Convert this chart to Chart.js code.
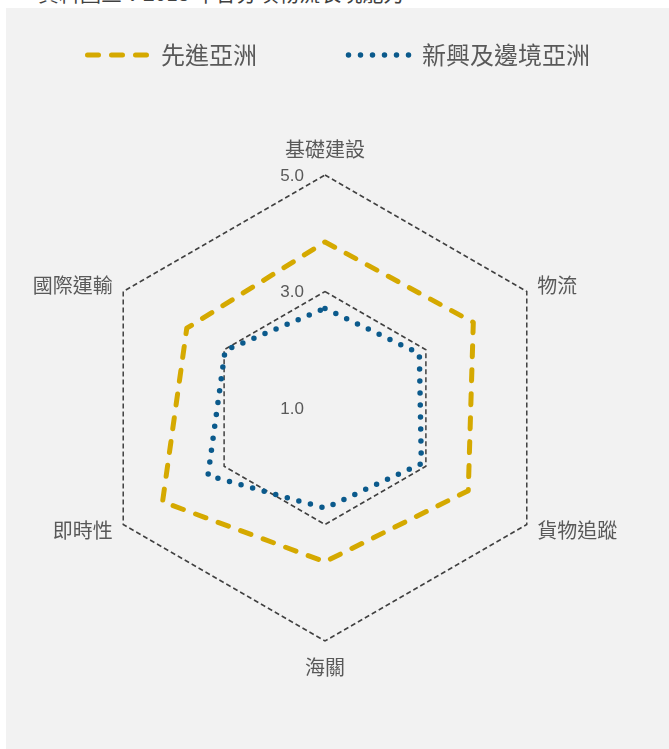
<!DOCTYPE html>
<html lang="zh-Hant">
<head>
<meta charset="utf-8">
<title>物流表現</title>
<script src="https://cdn.jsdelivr.net/npm/chart.js@4/dist/chart.umd.min.js"></script>
<style>
  html, body { margin: 0; padding: 0; background: #ffffff; }
  body { width: 669px; height: 749px; position: relative; overflow: hidden; }
  .caption {
    position: absolute; left: 38px; top: -18px;
    font: 21px/21px "Noto Sans CJK TC", sans-serif; color: #404040; white-space: nowrap;
  }
  .panel { position: absolute; left: 6px; top: 8px; width: 663px; height: 741px; background: #f2f2f2; }
  canvas { display: block; }
</style>
</head>
<body>
<div class="caption">資料圖三：2018 年各分項物流表現能力</div>
<div class="panel"><canvas id="radarChart" width="663" height="741"></canvas></div>
<script>
// Logistics performance by component, scored 1 to 5
var categories = ["基礎建設", "物流", "貨物追蹤", "海關", "即時性", "國際運輸"];
var advancedAsia = [3.85, 3.94, 3.84, 3.64, 4.22, 3.74];
var emergingAsia = [2.71, 2.87, 2.91, 2.72, 3.32, 2.98];
var seriesNames = ["先進亞洲", "新興及邊境亞洲"];
var tickValues = [1, 3, 5];
var tickLabels = ["1.0", "3.0", "5.0"];

var textGrey = "#595959";
var cjk = '"Noto Sans CJK TC", "Noto Sans CJK SC", sans-serif';

// legend across the top: a stroked sample of each dataset's line, then its name
var topLegend = {
  id: "topLegend",
  afterDraw: function (chart) {
    var ctx = chart.ctx;
    var sets = chart.data.datasets;
    var lineLen = 64, gap = 12, itemGap = 89, y = 47;
    ctx.save();
    ctx.font = "24px " + cjk;
    var total = 0;
    sets.forEach(function (ds, i) {
      total += lineLen + gap + ctx.measureText(ds.label).width + (i ? itemGap : 0);
    });
    var x = (chart.width - total) / 2;
    sets.forEach(function (ds) {
      ctx.beginPath();
      ctx.setLineDash(ds.borderDash);
      ctx.lineCap = "round";
      ctx.lineWidth = ds.borderWidth;
      ctx.strokeStyle = ds.borderColor;
      ctx.moveTo(x + 2.5, y);
      ctx.lineTo(x + lineLen, y);
      ctx.stroke();
      ctx.setLineDash([]);
      ctx.fillStyle = textGrey;
      ctx.textAlign = "left";
      ctx.textBaseline = "middle";
      ctx.fillText(ds.label, x + lineLen + gap, y);
      x += lineLen + gap + ctx.measureText(ds.label).width + itemGap;
    });
    ctx.restore();
  },
};

// category names sit just outside the outer ring, value labels to the left of the top spoke
var radarText = {
  id: "radarText",
  afterDraw: function (chart) {
    var r = chart.scales.r;
    var ctx = chart.ctx;
    ctx.save();
    ctx.fillStyle = textGrey;
    ctx.textBaseline = "middle";
    ctx.font = "20px " + cjk;
    categories.forEach(function (name, i) {
      var deg = Math.round((r.getIndexAngle(i) * 180) / Math.PI) % 360;
      var vertical = deg === 0 || deg === 180;
      var p = r.getPointPosition(i, r.drawingArea + (vertical ? 26 : 12));
      ctx.textAlign = vertical ? "center" : deg < 180 ? "left" : "right";
      ctx.fillText(name, p.x, p.y);
    });
    ctx.font = '17px "Liberation Sans", Arial, sans-serif';
    ctx.textAlign = "right";
    tickValues.forEach(function (v, i) {
      var d = r.getDistanceFromCenterForValue(v);
      ctx.fillText(tickLabels[i], r.xCenter - 21, r.yCenter - d + 1);
    });
    ctx.restore();
  },
};

new Chart(document.getElementById("radarChart"), {
  type: "radar",
  data: {
    labels: categories,
    datasets: [
      {
        label: seriesNames[0],
        data: advancedAsia,
        borderColor: "#d5a900",
        borderWidth: 5,
        borderDash: [11, 13],
        borderCapStyle: "round",
        borderJoinStyle: "round",
        fill: false,
        pointRadius: 0,
        pointHoverRadius: 0,
      },
      {
        label: seriesNames[1],
        data: emergingAsia,
        borderColor: "#0b5a8c",
        borderWidth: 5.5,
        borderDash: [0, 12],
        borderCapStyle: "round",
        borderJoinStyle: "round",
        fill: false,
        pointRadius: 0,
        pointHoverRadius: 0,
      },
    ],
  },
  options: {
    responsive: false,
    animation: false,
    layout: { padding: { top: 167, bottom: 108, left: 0, right: 25 } },
    plugins: { legend: { display: false }, tooltip: { enabled: false } },
    scales: {
      r: {
        min: 1,
        max: 5,
        ticks: { stepSize: 2, display: false },
        angleLines: { display: false },
        grid: { color: "#404040", lineWidth: 1.5 },
        border: { dash: [5, 3] },
        pointLabels: { display: false },
      },
    },
  },
  plugins: [topLegend, radarText],
});
</script>
</body>
</html>
